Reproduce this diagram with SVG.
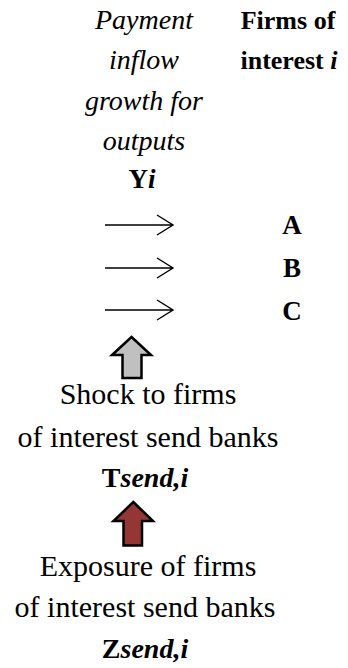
<svg xmlns="http://www.w3.org/2000/svg" width="348" height="668" viewBox="0 0 348 668">
<style>
text{font-family:"Liberation Serif","DejaVu Serif",serif;font-size:27px;fill:#000;text-anchor:middle}
.it{font-style:italic;font-size:28px}
.b{font-weight:bold}
.bi{font-weight:bold;font-style:italic}
.hd{font-size:26px}
.big{font-size:30px}
.lbl{font-size:28px}
.ln{fill:none;stroke:#000;stroke-width:1.4}
.blk{stroke:#000;stroke-width:2.5;stroke-linejoin:miter}
</style>
<rect width="348" height="668" fill="#fff"/>
<g id="payment-header">
<text class="it" x="144" y="29">Payment</text>
<text class="it" x="144" y="69">inflow</text>
<text class="it" x="144" y="110">growth for</text>
<text class="it" x="144" y="150">outputs</text>
<text class="b" x="142" y="188">Y<tspan class="bi">i</tspan></text>
</g>
<g id="firms-header">
<text class="b hd" x="288" y="29">Firms of</text>
<text class="b hd" x="289" y="69">interest <tspan class="bi">i</tspan></text>
</g>
<g id="firm-A"><text class="b" x="292" y="234">A</text></g>
<g id="firm-B"><text class="b" x="292" y="277">B</text></g>
<g id="firm-C"><text class="b" x="292" y="320">C</text></g>
<g id="shock">
<text class="big" x="148" y="404">Shock to firms</text>
<text class="big" x="148" y="447">of interest send banks</text>
<text class="b lbl" x="145" y="487">T<tspan class="bi">send,i</tspan></text>
</g>
<g id="exposure">
<text class="big" x="148" y="576">Exposure of firms</text>
<text class="big" x="145" y="617">of interest send banks</text>
<text class="b lbl" x="145" y="658">Z<tspan class="bi">send,i</tspan></text>
</g>
<g id="connectors">
<path class="ln" d="M105 225H173M157 215L173 225L157 235"/>
<path class="ln" d="M105 268H173M157 258L173 268L157 278"/>
<path class="ln" d="M105 310H173M157 300L173 310L157 320"/>
<path class="blk" fill="#c0c0c0" d="M131.5 337L151 355H141.5V378H122.5V355H112Z"/>
<path class="blk" fill="#943634" d="M133.3 502L153 521H142V545.5H123.5V521H113.5Z"/>
</g>
</svg>
